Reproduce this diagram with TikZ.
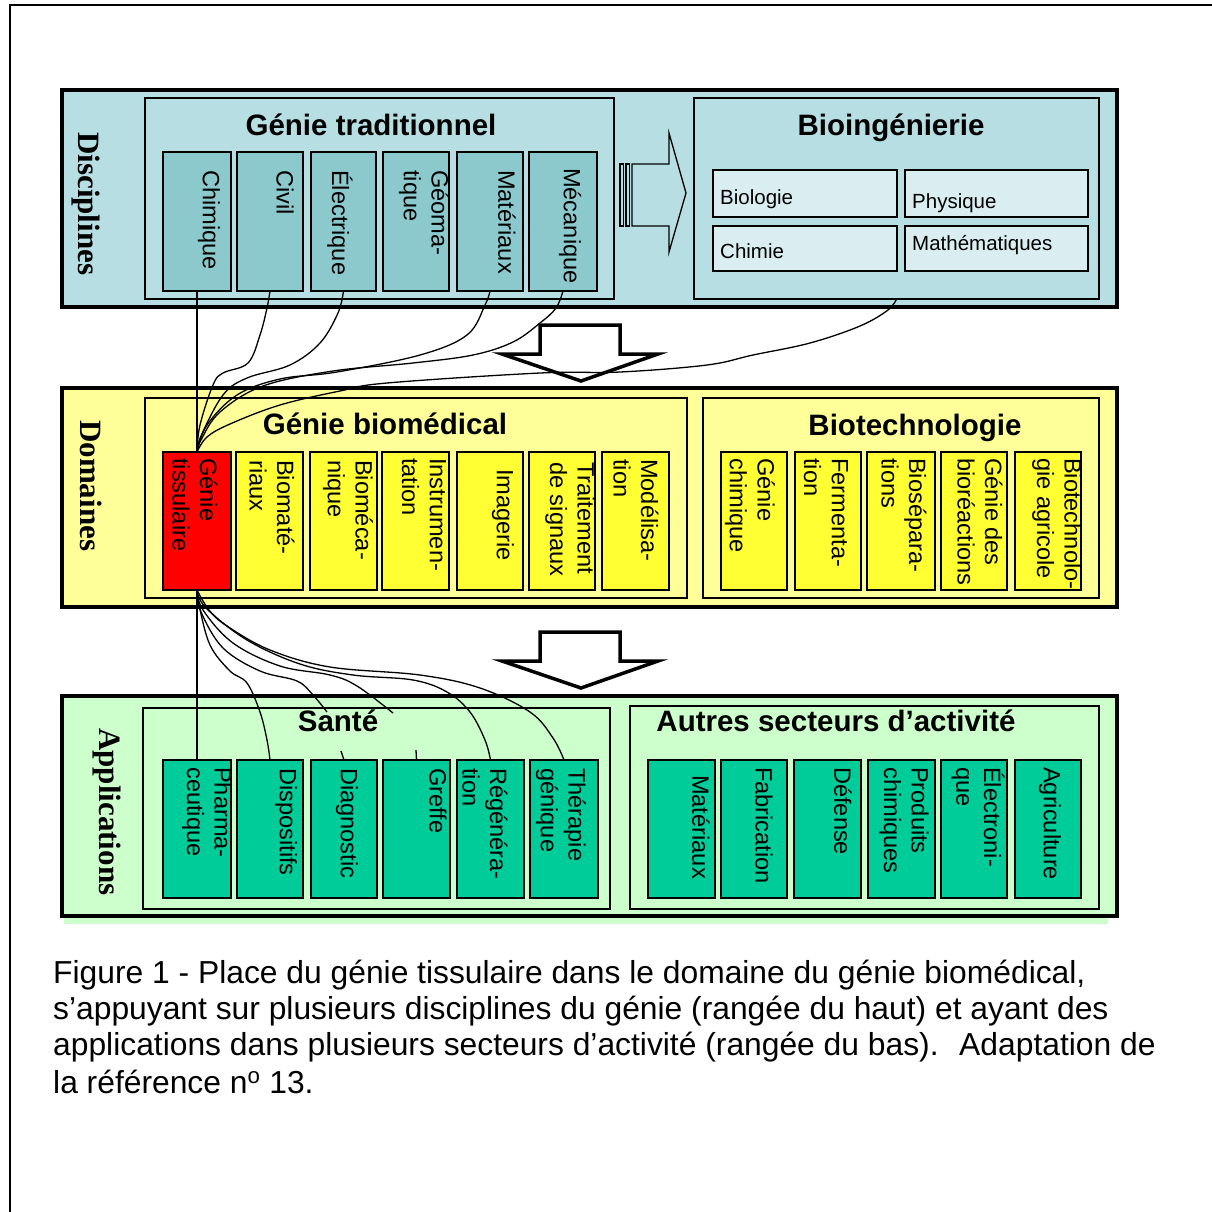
\documentclass[tikz,border=0pt]{standalone}
\usepackage{fontspec}
\setmainfont{Liberation Sans}
\newfontfamily\lserif{Liberation Serif}
\usetikzlibrary{calc}
\definecolor{bandblue}{RGB}{183,222,226}
\definecolor{cellblue}{RGB}{139,201,205}
\definecolor{lightblue}{RGB}{218,238,241}
\definecolor{bandyellow}{RGB}{255,255,153}
\definecolor{cellyellow}{RGB}{255,255,51}
\definecolor{bandgreen}{RGB}{204,255,204}
\definecolor{cellgreen}{RGB}{0,204,153}
\newcommand\cellfont{\fontsize{23.6}{27.6}\selectfont}
\newcommand\titlefont{\fontsize{29.5}{33}\selectfont\bfseries}
\newcommand\bandfont{\lserif\fontsize{31}{35}\selectfont\bfseries}
\newcommand\biofont{\fontsize{20.5}{24}\selectfont}
\newcommand\capfont{\fontsize{31.8}{36}\selectfont}
\newcommand\mkcell[6]{\node[cellb, fill=#6, minimum width=#4pt, minimum height=#5pt] (#1) at (#2,#3) {};}
\begin{document}
\begin{tikzpicture}[x=1pt,y=-1pt,
  box/.style={draw, rectangle, anchor=north west, inner sep=0pt, outer sep=0pt},
  band/.style={box, line width=4pt},
  grp/.style={box, line width=1.8pt},
  cellb/.style={box, line width=2.2pt},
  lbl/.style={rotate=-90, anchor=west, inner sep=0pt, align=left, font=\cellfont},
  ttl/.style={anchor=base, inner sep=0pt, font=\titlefont},
  bl/.style={rotate=-90, anchor=base west, inner sep=0pt, font=\bandfont},
  bt/.style={anchor=base west, inner sep=0pt, font=\biofont},
  wire/.style={line width=1.3pt, line join=round},
  bigarrow/.style={draw, line width=3.5pt, fill=white, line join=miter},
]
\useasboundingbox (0,0) rectangle (1212,1211);
% page frame
\draw[line width=2pt] (10,1213) -- (10,5) -- (1214,5);

% ---------- bands ----------
\node[band, fill=bandblue, minimum width=1055pt, minimum height=217pt] (disc) at (62,90) {};
\node[band, fill=bandyellow, minimum width=1055pt, minimum height=219pt] (dom) at (62,388) {};
\node[band, fill=bandgreen, minimum width=1055pt, minimum height=220pt] (app) at (62,696) {};
\fill[bandgreen] (64,918) rectangle (1108,924);

\node[bl] (ldisc) at (78,132) {Disciplines};
\node[bl] (ldom) at (80,420) {Domaines};
\node[bl] (lapp) at (99,728) {Applications};

% ---------- group boxes ----------
\node[grp, fill=bandblue, minimum width=469pt, minimum height=201pt] (gtrad) at (145,98) {};
\node[grp, fill=bandblue, minimum width=405pt, minimum height=201pt] (bioing) at (694,98) {};
\node[grp, fill=bandyellow, minimum width=542pt, minimum height=200pt] (gbio) at (145,398) {};
\node[grp, fill=bandyellow, minimum width=396pt, minimum height=200pt] (btech) at (703,398) {};
\node[grp, fill=bandgreen, minimum width=467pt, minimum height=201pt] (sante) at (143,708) {};
\node[grp, fill=bandgreen, minimum width=469pt, minimum height=203pt] (autres) at (630,706) {};

\node[ttl] (t1) at (371,135) {Génie traditionnel};
\node[ttl] (t2) at (891,135) {Bioingénierie};
\node[ttl] (t3) at (385,434) {Génie biomédical};
\node[ttl] (t4) at (915,435) {Biotechnologie};
\node[ttl] (t5) at (338,731) {Santé};
\node[ttl] (t6) at (836,731) {Autres secteurs d’activité};

% ---------- right striped arrow ----------
\draw[line width=1.3pt, fill=bandblue] (632,164) -- (669,164) -- (669,133) -- (686,193) -- (669,252) -- (669,226) -- (632,226) -- cycle;
\draw[line width=1.1pt, fill=bandblue] (620,164) rectangle (623.5,226);
\draw[line width=1.1pt, fill=bandblue] (626,164) rectangle (629.5,226);

% ---------- down arrows ----------
\draw[bigarrow] (540,325) -- (620,325) -- (620,354) -- (658,354) -- (581,381) -- (502,354) -- (540,354) -- cycle;
\draw[bigarrow] (540,632) -- (620,632) -- (620,661) -- (658,661) -- (581,688) -- (502,661) -- (540,661) -- cycle;

% ---------- top row cells ----------
\mkcell{chim}{163}{152}{68}{139}{cellblue}
\mkcell{civ}{237}{152}{66}{139}{cellblue}
\mkcell{elec}{311}{152}{65}{139}{cellblue}
\mkcell{geom}{383}{152}{66}{139}{cellblue}
\mkcell{mat}{457}{152}{66}{139}{cellblue}
\mkcell{meca}{529}{152}{68}{139}{cellblue}
\node[lbl] (lchim) at (209,170) {Chimique};
\node[lbl] (lciv) at (285,170) {Civil};
\node[lbl] (lelec) at (340,170) {Électrique};
\node[lbl] (lgeom) at (424,170) {Géoma-\\tique};
\node[lbl] (lmat) at (507,170) {Matériaux};
\node[lbl] (lmeca) at (570,168) {Mécanique};

\mkcell{biol}{713}{170}{184}{47}{lightblue}
\mkcell{phys}{905}{170}{183}{47}{lightblue}
\mkcell{chimie}{713}{226}{184}{45}{lightblue}
\mkcell{math}{905}{226}{183}{45}{lightblue}
\node[bt] (lbiol) at (720,204) {Biologie};
\node[bt] (lphys) at (912,208) {Physique};
\node[bt] (lchimie) at (720,258) {Chimie};
\node[bt] (lmath) at (912,250) {Mathématiques};

% ---------- middle row cells ----------
\mkcell{gtis}{163}{452}{68}{138}{red}
\mkcell{bmat}{236}{452}{67}{138}{cellyellow}
\mkcell{bmec}{310}{452}{67}{138}{cellyellow}
\mkcell{inst}{382}{452}{67}{138}{cellyellow}
\mkcell{imag}{457}{452}{66}{138}{cellyellow}
\mkcell{trai}{529}{452}{66}{138}{cellyellow}
\mkcell{mode}{602}{452}{67}{138}{cellyellow}
\mkcell{gchi}{721}{452}{66}{138}{cellyellow}
\mkcell{ferm}{795}{452}{66}{138}{cellyellow}
\mkcell{bsep}{867}{452}{68}{138}{cellyellow}
\mkcell{gbre}{941}{452}{66}{138}{cellyellow}
\mkcell{bagr}{1015}{452}{66}{138}{cellyellow}
\node[lbl] (lgtis) at (195,458) {Génie\\tissulaire};
\node[lbl] (lbmat) at (272,460) {Biomaté-\\riaux};
\node[lbl] (lbmec) at (348,460) {Bioméca-\\nique};
\node[lbl] (linst) at (424,458) {Instrumen-\\tation};
\node[lbl] (limag) at (503,469) {Imagerie};
\node[lbl] (ltrai) at (570,462) {Traitement\\de signaux};
\node[lbl] (lmode) at (636,459) {Modélisa-\\tion};
\node[lbl] (lgchi) at (750,458) {Génie\\chimique};
\node[lbl] (lferm) at (826,458) {Fermenta-\\tion};
\node[lbl] (lbsep) at (904,458) {Biosépara-\\tions};
\node[lbl] (lgbre) at (980,458) {Génie des\\bioréactions};
\node[lbl] (lbagr) at (1057,458) {Biotechnolo-\\gie agricole};

% ---------- bottom row cells ----------
\mkcell{phar}{163}{760}{68}{138}{cellgreen}
\mkcell{disp}{237}{760}{66}{138}{cellgreen}
\mkcell{diag}{311}{760}{66}{138}{cellgreen}
\mkcell{gref}{383}{760}{67}{138}{cellgreen}
\mkcell{rege}{457}{760}{67}{138}{cellgreen}
\mkcell{ther}{530}{760}{68}{138}{cellgreen}
\mkcell{amat}{648}{760}{67}{138}{cellgreen}
\mkcell{afab}{721}{760}{66}{138}{cellgreen}
\mkcell{adef}{794}{760}{67}{138}{cellgreen}
\mkcell{apro}{868}{760}{67}{138}{cellgreen}
\mkcell{aele}{941}{760}{66}{138}{cellgreen}
\mkcell{aagr}{1015}{760}{66}{138}{cellgreen}
\node[lbl] (lphar) at (207,767) {Pharma-\\ceutique};
\node[lbl] (ldisp) at (286,768) {Dispositifs};
\node[lbl] (ldiag) at (347,768) {Diagnostic};
\node[lbl] (lgref) at (438,768) {Greffe};
\node[lbl] (lrege) at (485,768) {Régénéra-\\tion};
\node[lbl] (lther) at (561,768) {Thérapie\\génique};
\node[lbl] (lamat) at (701,775) {Matériaux};
\node[lbl] (lafab) at (764,767) {Fabrication};
\node[lbl] (ladef) at (843,767) {Défense};
\node[lbl] (lapro) at (904,767) {Produits\\chimiques};
\node[lbl] (laele) at (978,767) {Électroni-\\que};
\node[lbl] (laagr) at (1050,767) {Agriculture};

% ---------- connectors ----------
\coordinate (diagend) at (327,712);
\coordinate (grefend) at (393,713);
\coordinate (diagstub) at (341,751);
\coordinate (grefstub) at (416,750);
\draw[wire] (chim.south) -- (gtis.north);
\draw[wire] plot[smooth, tension=0.6] coordinates {(gtis.north) (200,425) (213,385) (223,373) (248,363) (260,335) (267,308) (civ.south)};
\draw[wire] plot[smooth, tension=0.6] coordinates {(gtis.north) (201,436) (223,395) (247,378) (290,365) (320,343) (338,313) (elec.south)};
\draw[wire] plot[smooth, tension=0.6] coordinates {(gtis.north) (207,425) (237,395) (280,379) (337,372) (420,355) (467,335) (485,305) (mat.south)};
\draw[wire] plot[smooth, tension=0.6] coordinates {(gtis.north) (201,440) (220,412) (263,386) (333,371) (413,363) (473,355) (513,342) (540,323) (556,308) (meca.south)};
\draw[wire] plot[smooth, tension=0.6] coordinates {(gtis.north) (207,437) (230,424) (280,405) (340,391) (387,383) (540,373) (620,372) (707,365) (753,355) (810,343) (860,326) (888,310) (bioing.south)};

\draw[wire] (gtis.south) -- (phar.north);
\draw[wire] plot[smooth, tension=0.6] coordinates {(gtis.south) (199,605) (210,645) (230,671) (247,683) (260,712) (267,740) (disp.north)};
\draw[wire] plot[smooth, tension=0.6] coordinates {(gtis.south) (201,612) (223,648) (260,671) (297,681) (313,695) (diagend)};
\draw[wire] plot[smooth, tension=0.6] coordinates {(gtis.south) (203,610) (233,643) (280,666) (330,675) (357,686) (grefend)};
\draw[wire] plot[smooth, tension=0.6] coordinates {(gtis.south) (206,608) (247,640) (300,664) (353,675) (413,680) (447,692) (470,712) (485,740) (rege.north)};
\draw[wire] plot[smooth, tension=0.6] coordinates {(gtis.south) (209,610) (227,626) (270,650) (330,667) (420,675) (480,688) (530,712) (553,738) (ther.north)};
\draw[wire] (diagstub) -- (diag.north);
\draw[wire] (grefstub) -- (gref.north);

% ---------- caption ----------
\node[anchor=base west, inner sep=0pt, font=\capfont] (cap1) at (53,983) {Figure 1 - Place du génie tissulaire dans le domaine du génie biomédical,};
\node[anchor=base west, inner sep=0pt, font=\capfont] (cap2) at (53,1019) {s’appuyant sur plusieurs disciplines du génie (rangée du haut) et ayant des};
\node[anchor=base west, inner sep=0pt, font=\capfont] (cap3) at (53,1055) {applications dans plusieurs secteurs d’activité (rangée du bas).~ Adaptation de};
\node[anchor=base west, inner sep=0pt, font=\capfont] (cap4) at (53,1093) {la référence n\textsuperscript{o} 13.};
\end{tikzpicture}
\end{document}
